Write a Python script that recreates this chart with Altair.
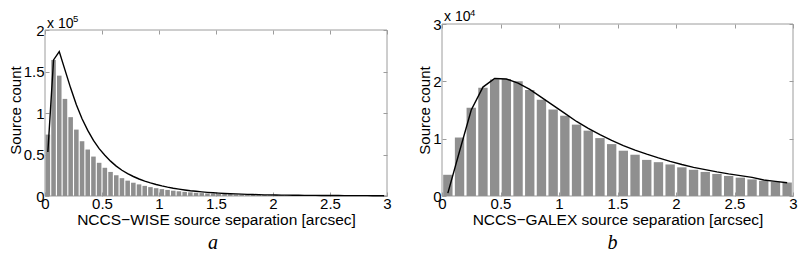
import altair as alt
import pandas as pd

# ---------------- data ----------------
WISE_X = [0.025, 0.075, 0.125, 0.175, 0.225, 0.275, 0.325, 0.375, 0.425, 0.475,
          0.525, 0.575, 0.625, 0.675, 0.725, 0.775, 0.825, 0.875, 0.925, 0.975,
          1.025, 1.075, 1.125, 1.175, 1.225, 1.275, 1.325, 1.375, 1.425, 1.475,
          1.525, 1.575, 1.625, 1.675, 1.725, 1.775, 1.825, 1.875, 1.925, 1.975,
          2.025, 2.075, 2.125, 2.175, 2.225, 2.275, 2.325, 2.375, 2.425, 2.475,
          2.525, 2.575, 2.625, 2.675, 2.725, 2.775, 2.825, 2.875, 2.925, 2.975]
WISE_COUNT = [74000, 164000, 145000, 117000, 95000, 80000, 66000, 56000, 47500, 40000,
              34000, 29000, 25000, 21500, 18500, 16000, 14000, 12200, 10700, 9400,
              8300, 7300, 6400, 5700, 5000, 4400, 3900, 3500, 3100, 2800,
              2500, 2200, 2000, 1800, 1600, 1400, 1300, 1200, 1100, 1000,
              900, 850, 800, 750, 700, 650, 600, 570, 540, 510,
              480, 450, 430, 410, 390, 370, 350, 330, 310, 300]
WISE_FIT = [53000, 164000, 174000, 152000, 130000, 110000, 93000, 79000, 67000, 57000,
            49000, 42000, 36000, 31000, 27000, 23500, 20500, 18000, 15800, 13900,
            12200, 10700, 9400, 8300, 7300, 6400, 5700, 5000, 4400, 3900,
            3500, 3100, 2800, 2500, 2200, 2000, 1800, 1600, 1400, 1300,
            1200, 1100, 1000, 900, 850, 800, 750, 700, 650, 600,
            570, 540, 510, 480, 450, 430, 410, 390, 370, 350]

GALEX_X = [0.05, 0.15, 0.25, 0.35, 0.45, 0.55, 0.65, 0.75, 0.85, 0.95,
           1.05, 1.15, 1.25, 1.35, 1.45, 1.55, 1.65, 1.75, 1.85, 1.95,
           2.05, 2.15, 2.25, 2.35, 2.45, 2.55, 2.65, 2.75, 2.85, 2.95]
GALEX_COUNT = [3700, 10200, 15400, 18900, 20300, 20400, 20000, 18500, 16800, 15100,
               14000, 12450, 11400, 10100, 9050, 7900, 7200, 6300, 5900, 5500,
               5000, 4600, 4200, 3850, 3500, 3200, 2900, 2650, 2500, 2350]
GALEX_FIT = [500, 7800, 15000, 19000, 20500, 20400, 19700, 18600, 17200, 15800,
             14400, 13000, 11800, 10700, 9700, 8800, 8000, 7300, 6650, 6050,
             5500, 5000, 4600, 4200, 3850, 3550, 3250, 2800, 2550, 2300]

X_TICKS = [0, 0.5, 1, 1.5, 2, 2.5, 3]
WISE_YTICKS = [0, 50000, 100000, 150000, 200000]
GALEX_YTICKS = [0, 10000, 20000, 30000]

FONT = "Liberation Sans"
BAR = "#8f8f8f"
FRAME = "#9c9c9c"


def panel(centers, counts, fit_x, fit_y, binw, yticks, ydiv, exp, width, height,
          frame_h, xtitle, letter, letter_dx, sup_dy, base_dy):
    ymax = yticks[-1]
    ytop = ymax * height / frame_h
    head = height - frame_h
    xs = alt.Scale(domain=[X_TICKS[0], X_TICKS[-1]], nice=False)
    ys = alt.Scale(domain=[0, ytop], nice=False, zero=True)

    common = dict(domain=False, grid=False, tickColor=FRAME, tickSize=4,
                  labelFont=FONT, titleFont=FONT, labelFontSize=15,
                  labelColor="black", titleColor="black", titleFontWeight="normal",
                  labelFlush=False, labelOverlap=False)
    x_bottom = alt.Axis(values=X_TICKS, orient="bottom", offset=-4, labelPadding=0,
                        format="~g", title=xtitle, titlePadding=1, titleFontSize=15.5,
                        **common)
    y_left = alt.Axis(values=yticks, orient="left", offset=-4, labelPadding=1,
                      labelExpr=f"format(datum.value / {ydiv}, '~g')",
                      title="Source count", titlePadding=0, titleFontSize=15, **common)
    x_top = alt.Axis(values=X_TICKS, orient="top", offset=-(4 + head), labels=False,
                     title=None, **common)
    y_right = alt.Axis(values=yticks, orient="right", offset=-4, labels=False,
                       title=None, **common)

    bars_df = pd.DataFrame({"x": centers, "n": counts})
    fit_df = pd.DataFrame({"x": fit_x, "n": fit_y})
    frame_df = pd.DataFrame({"x0": [X_TICKS[0]], "x1": [X_TICKS[-1]],
                             "y0": [yticks[0]], "y1": [ymax]})
    lab_df = pd.DataFrame({"x": [X_TICKS[0]], "y": [ymax], "base": ["x 10"], "exp": [exp]})

    bars = alt.Chart(bars_df).transform_calculate(
        x0=f"datum.x - {0.4 * binw}", x1=f"datum.x + {0.4 * binw}"
    ).mark_bar(color=BAR, strokeWidth=0).encode(
        x=alt.X("x0:Q", scale=xs, axis=x_bottom),
        x2="x1:Q",
        y=alt.Y("n:Q", scale=ys, axis=y_left),
        y2=alt.datum(0),
    )
    line = alt.Chart(fit_df).mark_line(color="black", strokeWidth=1.4).encode(
        x=alt.X("x:Q", scale=xs, axis=x_top),
        y=alt.Y("n:Q", scale=ys, axis=y_right),
    )
    frame = alt.Chart(frame_df).mark_rect(fill="transparent", stroke=FRAME, strokeWidth=1).encode(
        x=alt.X("x0:Q", scale=xs, axis=None), x2="x1:Q",
        y=alt.Y("y0:Q", scale=ys, axis=None), y2="y1:Q",
    )
    base_txt = alt.Chart(lab_df).mark_text(align="left", baseline="alphabetic", dx=2, dy=base_dy,
                                           font=FONT, fontSize=14, color="black").encode(
        x=alt.X("x:Q", scale=xs, axis=None), y=alt.Y("y:Q", scale=ys, axis=None), text="base:N")
    exp_txt = alt.Chart(lab_df).mark_text(align="left", baseline="alphabetic", dx=28, dy=sup_dy,
                                          font=FONT, fontSize=9.5, color="black").encode(
        x=alt.X("x:Q", scale=xs, axis=None), y=alt.Y("y:Q", scale=ys, axis=None), text="exp:N")

    return alt.layer(frame, bars, line, base_txt, exp_txt).resolve_axis(
        x="independent", y="independent"
    ).properties(
        width=width, height=height,
        title=alt.TitleParams(letter, orient="bottom", anchor="middle", frame="group",
                              font="Liberation Serif", fontStyle="italic", fontWeight="normal",
                              fontSize=20, color="black", offset=5, dx=letter_dx),
    )


left = panel(WISE_X, WISE_COUNT, WISE_X, WISE_FIT, 0.05, WISE_YTICKS, 100000, "5",
             342, 172, 166, "NCCS\u2212WISE source separation [arcsec]", "a", -3, -8, -2)
right = panel(GALEX_X, GALEX_COUNT, GALEX_X, GALEX_FIT, 0.1, GALEX_YTICKS, 10000, "4",
              351, 172, 172, "NCCS\u2212GALEX source separation [arcsec]", "b", -5, -8, -3)

chart = alt.hconcat(left, right, spacing=55, bounds="flush").configure_view(
    stroke=None
).properties(padding={"left": 0, "top": 0, "right": 0, "bottom": 0})

chart.save("out.html", embed_options={"renderer": "svg", "actions": False})
